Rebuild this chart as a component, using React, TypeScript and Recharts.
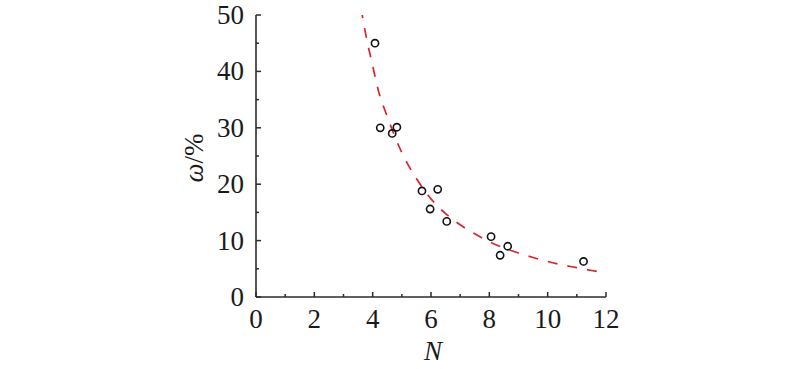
import { ComposedChart, Line, Scatter, XAxis, YAxis, Label } from 'recharts';

// measured points
const pointN = [4.08, 4.26, 4.67, 4.83, 5.69, 5.97, 6.23, 6.54, 8.06, 8.37, 8.63, 11.23];
const pointW = [45.0, 30.0, 29.0, 30.1, 18.8, 15.6, 19.1, 13.4, 10.7, 7.4, 9.0, 6.3];

// dashed fit curve
const fitN = [3.6, 3.8, 4.0, 4.2, 4.5, 5.0, 5.5, 6.0, 6.5, 7.0, 7.5, 8.0, 8.5, 9.0, 9.5, 10.0, 10.5, 11.0, 11.5, 12.0];
const fitW = [51.2, 45.6, 41.0, 36.5, 32.0, 25.6, 21.0, 17.4, 14.8, 12.8, 11.2, 9.8, 8.7, 7.8, 7.0, 6.3, 5.7, 5.2, 4.7, 4.3];

const xTicks = [0, 1, 2, 3, 4, 5, 6, 7, 8, 9, 10, 11, 12];
const yTicks = [0, 5, 10, 15, 20, 25, 30, 35, 40, 45, 50];

const points = pointN.map((x, i) => ({ x, y: pointW[i] }));
const fit = fitN.map((x, i) => ({ x, y: fitW[i] }));

const AXIS = '#2b2b2b';
const RED = '#d8252d';
const txt = { fontFamily: "'Liberation Serif', serif", fontSize: 27, fill: '#1a1a1a' };

function XTick(props: any) {
  const { x, y, payload } = props;
  const v = payload.value;
  const major = v % 2 === 0;
  return (
    <g>
      <line x1={x} y1={y} x2={x} y2={y - (major ? 5 : 3)} stroke={AXIS} strokeWidth={1.5} />
      {major && (
        <text x={x} y={y + 31} textAnchor="middle" style={txt}>{v}</text>
      )}
    </g>
  );
}

function YTick(props: any) {
  const { x, y, payload } = props;
  const v = payload.value;
  const major = v % 10 === 0;
  return (
    <g>
      <line x1={x} y1={y} x2={x + (major ? 5 : 3)} y2={y} stroke={AXIS} strokeWidth={1.5} />
      {major && (
        <text x={x - 12} y={y + 9} textAnchor="end" style={txt}>{v}</text>
      )}
    </g>
  );
}

function Ring(props: any) {
  const { cx, cy } = props;
  return <circle cx={cx} cy={cy} r={3.6} fill="none" stroke="#111" strokeWidth={1.6} />;
}

export default function App() {
  return (
    <div style={{ position: 'absolute', left: 0, top: 0, width: 800, height: 369, background: '#fff' }}>
      <ComposedChart width={800} height={369} margin={{ top: 15, right: 194, bottom: 22, left: 196 }}>
        <XAxis
          type="number"
          dataKey="x"
          domain={[0, 12]}
          ticks={xTicks}
          interval={0}
          tickSize={0}
          tickMargin={0}
          tick={<XTick />}
          axisLine={{ stroke: AXIS, strokeWidth: 1.6 }}
          tickLine={false}
          height={50}
        >
          <Label
            content={({ viewBox }: any) => (
              <text x={viewBox.x + viewBox.width / 2 + 2} y={viewBox.y + 63} textAnchor="middle"
                    style={{ ...txt, fontStyle: 'italic' }}>N</text>
            )}
          />
        </XAxis>
        <YAxis
          type="number"
          dataKey="y"
          domain={[0, 50]}
          ticks={yTicks}
          interval={0}
          allowDataOverflow
          tickSize={0}
          tickMargin={0}
          tick={<YTick />}
          axisLine={{ stroke: AXIS, strokeWidth: 1.6 }}
          tickLine={false}
          width={60}
        >
          <Label
            content={({ viewBox }: any) => {
              const cx = viewBox.x + viewBox.width - 53;
              const cy = viewBox.y + viewBox.height / 2 + 2;
              return (
                <text x={cx} y={cy} textAnchor="middle" transform={`rotate(-90 ${cx} ${cy})`} style={txt}>
                  <tspan style={{ fontStyle: 'italic' }}>ω</tspan>
                  <tspan>/%</tspan>
                </text>
              );
            }}
          />
        </YAxis>
        <Line
          data={fit}
          dataKey="y"
          type="monotone"
          stroke={RED}
          strokeWidth={1.7}
          strokeDasharray="10 10"
          dot={false}
          activeDot={false}
          isAnimationActive={false}
        />
        <Scatter data={points} dataKey="y" shape={<Ring />} isAnimationActive={false} />
      </ComposedChart>
    </div>
  );
}
